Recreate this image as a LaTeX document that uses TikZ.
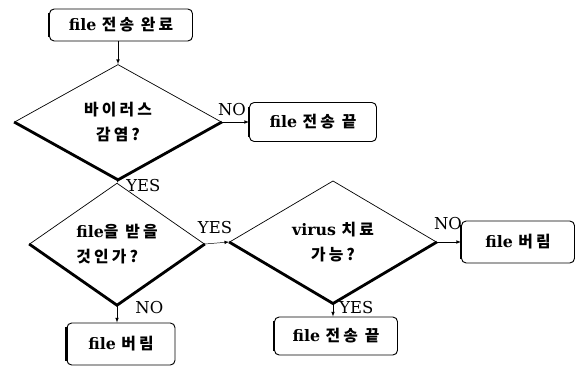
\documentclass[tikz,border=0pt]{standalone}
\usepackage{fontspec}
\setmainfont{DejaVu Serif}
\newfontfamily\krfont[LetterSpace=20]{Noto Sans CJK KR}
\newcommand{\kr}[1]{{\krfont #1}}
\usetikzlibrary{shapes.geometric}

\tikzset{
  endbox/.style={draw, thick, rounded corners=4pt, inner sep=0pt,
    font=\bfseries\fontsize{13.5}{16}\selectfont},
  decision/.style={draw, semithick, diamond, inner sep=0pt,
    font=\bfseries\fontsize{13.5}{16}\selectfont},
  answer/.style={inner sep=1pt, font=\fontsize{14}{16}\selectfont},
}

\begin{document}
\begin{tikzpicture}[x=0.03cm, y=-0.03cm]
\useasboundingbox (0,0) rectangle (583,367);
% boxes
\node[endbox, minimum width=4.29cm, minimum height=0.96cm] (start) at (121,25) {file \kr{전송 완료}};
\node[endbox, minimum width=3.81cm, minimum height=1.17cm] (stop1) at (313,122) {file \kr{전송 끝}};
\node[endbox, minimum width=3.24cm, minimum height=1.26cm] (drop1) at (121,344) {file \kr{버림}};
\node[endbox, minimum width=3.39cm, minimum height=1.26cm] (drop2) at (518,242) {file \kr{버림}};
\node[endbox, minimum width=3.69cm, minimum height=1.14cm] (stop2) at (336,336) {file \kr{전송 끝}};
% decisions
\node[decision, align=center, minimum width=6.21cm, minimum height=3.45cm] (infected) at (118,122) {\kr{바이러스}\\[6pt]\kr{감염?}};
\node[decision, align=left, minimum width=5.25cm, minimum height=3.06cm] (accept) at (117,244) {file\kr{을 받을}\\[6pt]\kr{것인가?}};
\node[decision, align=center, minimum width=6.21cm, minimum height=3.12cm] (curable) at (333,242) {virus \kr{치료}\\[6pt]\kr{가능?}};
% shadows
\foreach \d in {infected, accept, curable}
  \draw[line width=2.4pt] (\d.west) -- (\d.south) -- (\d.east);
\foreach \b in {start, stop1, drop1, drop2, stop2}
  \draw[line width=1.8pt] ([yshift=-4pt]\b.north west) -- ([yshift=4pt]\b.south west);
% connectors
\draw[-latex] (infected.north |- start.south) -- (infected.north);
\draw[-latex] (infected.east) -- (infected.east -| stop1.west);
\draw[-latex] (infected.south) -- (accept.north);
\draw[-latex] (accept.east) -- (curable.west);
\draw[-latex] (accept.south) -- (accept.south |- drop1.north);
\draw[-latex] (curable.east) -- (curable.east -| drop2.west);
\draw[-latex] (curable.south) -- (curable.south |- stop2.north);
% labels
\node[answer] (no1) at (232,110) {NO};
\node[answer, anchor=west] (yes1) at (125,186) {YES};
\node[answer] (yes2) at (215,228) {YES};
\node[answer, anchor=west] (no2) at (134,308) {NO};
\node[answer] (no3) at (448,224) {NO};
\node[answer, anchor=west] (yes3) at (338,308) {YES};
\end{tikzpicture}
\end{document}
